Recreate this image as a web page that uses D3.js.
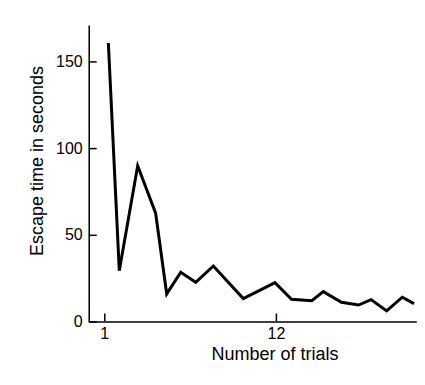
<!DOCTYPE html>
<html>
<head>
<meta charset="utf-8">
<script src="https://cdn.jsdelivr.net/npm/d3@7"></script>
<style>
  body { margin: 0; background: #fff; }
  text { font-family: "Liberation Sans", Arial, sans-serif; }
</style>
</head>
<body>
<div class="chart"></div>
<script>
// trial positions
var trials = [1.26, 1.96, 3.14, 4.29, 5.0, 5.9, 6.86, 7.99, 9.91, 11.94, 13.0, 14.3, 15.04, 16.2, 17.3, 18.1, 19.1, 20.1, 20.85];
var escapeTimes = [160.6, 29.3, 89.8, 62.5, 15.9, 28.4, 22.6, 32.0, 13.2, 22.4, 12.8, 12.0, 17.2, 11.1, 9.5, 12.6, 6.1, 14.0, 10.3];
var xTicks = [1, 12];
var yTicks = [0, 50, 100, 150];

var data = trials.map((t, i) => ({ trial: t, time: escapeTimes[i] }));

var width = 425;
var height = 385;

var svg = d3
  .select(".chart")
  .append("svg")
  .attr("width", width)
  .attr("height", height);

var xScale = d3.scaleLinear().domain([0, 21]).range([88.7, 416.3]);
var yScale = d3.scaleLinear().domain([0, 171]).range([321.5, 25]);

// both axes have their ticks pointing inward
var xAxis = svg
  .append("g")
  .attr("transform", `translate(0, ${yScale(0)})`)
  .call(d3.axisBottom(xScale).tickValues(xTicks).tickSizeInner(-8).tickSizeOuter(0).tickPadding(6));
xAxis.select(".domain").attr("stroke-width", 1.5);
xAxis.selectAll(".tick line").attr("stroke-width", 1.5);
xAxis.selectAll(".tick text").attr("font-size", 16).attr("fill", "#000");

var yAxis = svg
  .append("g")
  .attr("transform", `translate(${xScale(0)}, 0)`)
  .call(d3.axisLeft(yScale).tickValues(yTicks).tickSizeInner(-8).tickSizeOuter(0).tickPadding(6));
yAxis.select(".domain").attr("stroke-width", 1.5);
yAxis.selectAll(".tick line").attr("stroke-width", 1.5);
yAxis.selectAll(".tick text").attr("font-size", 16).attr("fill", "#000");

var line = d3
  .line()
  .x((d) => xScale(d.trial))
  .y((d) => yScale(d.time));

svg
  .append("path")
  .datum(data)
  .attr("fill", "none")
  .attr("stroke", "#000")
  .attr("stroke-width", 3)
  .attr("d", line);

svg
  .append("text")
  .attr("x", 275)
  .attr("y", 360)
  .attr("text-anchor", "middle")
  .attr("font-size", 18)
  .text("Number of trials");

svg
  .append("text")
  .attr("transform", "translate(43, 161) rotate(-90)")
  .attr("text-anchor", "middle")
  .attr("font-size", 18)
  .text("Escape time in seconds");
</script>
</body>
</html>
